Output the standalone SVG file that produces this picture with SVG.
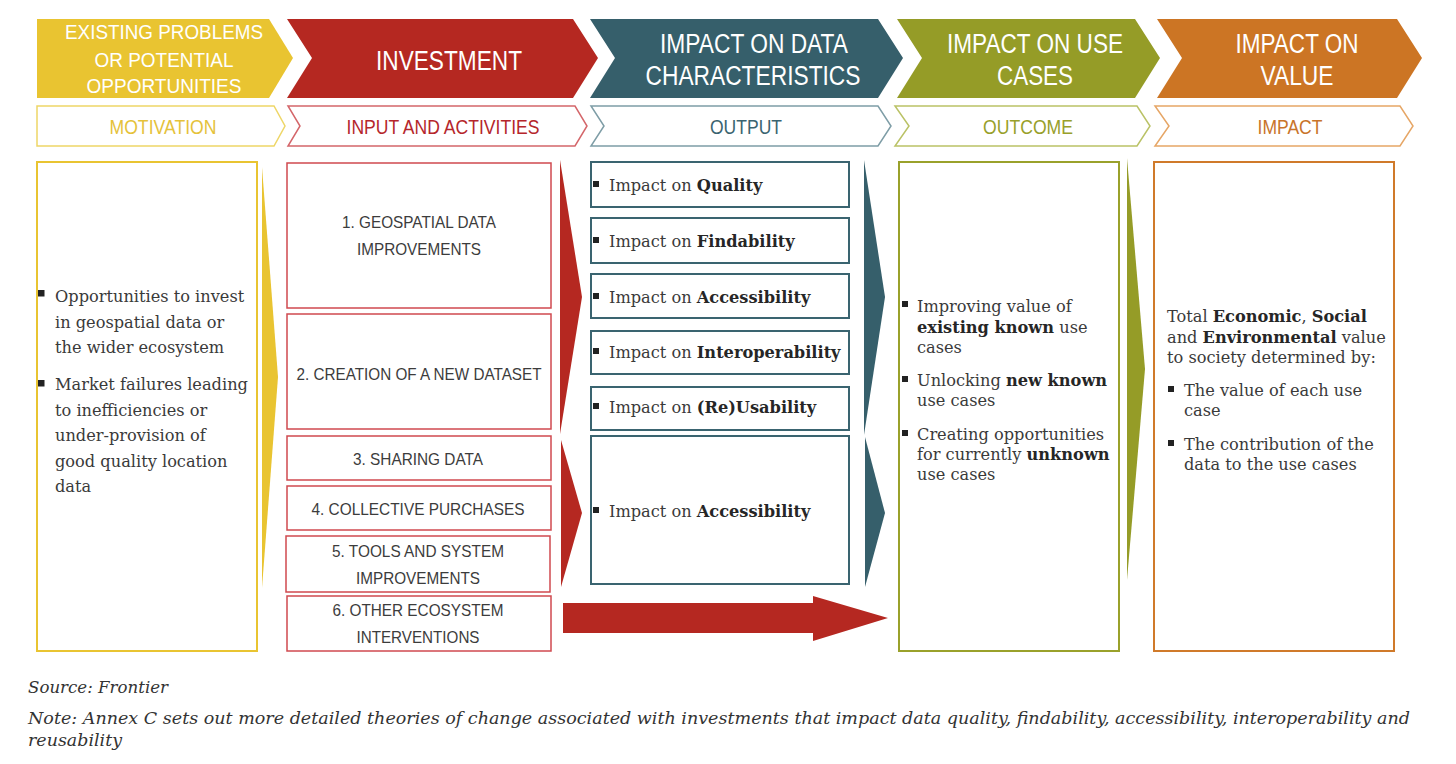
<svg xmlns="http://www.w3.org/2000/svg" width="1456" height="764" viewBox="0 0 1456 764">
<style>
.hd{font-family:"Liberation Sans Narrow","Liberation Sans",Arial,sans-serif;fill:#fff;text-anchor:middle}
.h1{font-size:27px}
.h2{font-size:20px}
.lb{font-family:"Liberation Sans Narrow","Liberation Sans",Arial,sans-serif;font-size:21px;text-anchor:middle}
.bx{font-family:"Liberation Sans Narrow","Liberation Sans",Arial,sans-serif;font-size:17px;fill:#3c3c3c;text-anchor:middle}
.sf{font-family:"DejaVu Serif","Liberation Serif",serif;font-size:16.2px;fill:#3a3a3a}
.b{font-weight:bold;fill:#262626}
.ft{font-family:"DejaVu Serif","Liberation Serif",serif;font-size:17.5px;font-style:italic;fill:#333}
.bul{fill:#222}
</style>
<rect width="1456" height="764" fill="#fff"/>

<g id="col-motivation">
  <path d="M37,19 H269 L293,58 L269,98 H37 Z" fill="#E9C431"/>
  <text class="hd h2" x="164" y="39" textLength="198" lengthAdjust="spacingAndGlyphs">EXISTING PROBLEMS</text>
  <text class="hd h2" x="164" y="67" textLength="139" lengthAdjust="spacingAndGlyphs">OR POTENTIAL</text>
  <text class="hd h2" x="164" y="93" textLength="155" lengthAdjust="spacingAndGlyphs">OPPORTUNITIES</text>
  <path d="M37,106 H274 L285,126 L274,146 H37 Z" fill="#fff" stroke="#EED667" stroke-width="1.5"/>
  <text class="lb" x="163" y="134" fill="#E5C23A" textLength="107" lengthAdjust="spacingAndGlyphs">MOTIVATION</text>
</g>

<g id="col-investment">
  <path d="M287,19 H573 L598,58 L573,98 H287 L312,58 Z" fill="#B52821"/>
  <text class="hd h1" x="449" y="70" textLength="146" lengthAdjust="spacingAndGlyphs">INVESTMENT</text>
  <path d="M288,106 H575 L587,126 L575,146 H288 L300,126 Z" fill="#fff" stroke="#D4666A" stroke-width="1.5"/>
  <text class="lb" x="443" y="134" fill="#B5262B" textLength="193" lengthAdjust="spacingAndGlyphs">INPUT AND ACTIVITIES</text>
</g>

<g id="col-output">
  <path d="M590,19 H878 L903,58 L878,98 H590 L615,58 Z" fill="#365F6B"/>
  <text class="hd h1" x="754" y="53" textLength="188" lengthAdjust="spacingAndGlyphs">IMPACT ON DATA</text>
  <text class="hd h1" x="753" y="85" textLength="215" lengthAdjust="spacingAndGlyphs">CHARACTERISTICS</text>
  <path d="M591,106 H878 L891,126 L878,146 H591 L604,126 Z" fill="#fff" stroke="#7E9DA6" stroke-width="1.5"/>
  <text class="lb" x="746" y="134" fill="#3A6470" textLength="72" lengthAdjust="spacingAndGlyphs">OUTPUT</text>
</g>

<g id="col-outcome">
  <path d="M897,19 H1135 L1160,58 L1135,98 H897 L922,58 Z" fill="#959C27"/>
  <text class="hd h1" x="1035" y="53" textLength="176" lengthAdjust="spacingAndGlyphs">IMPACT ON USE</text>
  <text class="hd h1" x="1035" y="85" textLength="76" lengthAdjust="spacingAndGlyphs">CASES</text>
  <path d="M895,106 H1137 L1150,126 L1137,146 H895 L909,126 Z" fill="#fff" stroke="#BAC266" stroke-width="1.5"/>
  <text class="lb" x="1028" y="134" fill="#98A02A" textLength="90" lengthAdjust="spacingAndGlyphs">OUTCOME</text>
</g>

<g id="col-impact">
  <path d="M1157,19 H1397 L1422,58 L1397,98 H1157 L1182,58 Z" fill="#CC7524"/>
  <text class="hd h1" x="1297" y="53" textLength="123" lengthAdjust="spacingAndGlyphs">IMPACT ON</text>
  <text class="hd h1" x="1297" y="85" textLength="73" lengthAdjust="spacingAndGlyphs">VALUE</text>
  <path d="M1155,106 H1400 L1413,126 L1400,146 H1155 L1169,126 Z" fill="#fff" stroke="#E6A666" stroke-width="1.5"/>
  <text class="lb" x="1290" y="134" fill="#C8742A" textLength="65" lengthAdjust="spacingAndGlyphs">IMPACT</text>
</g>

<g id="box-motivation">
  <rect x="37" y="162" width="220" height="489" fill="#fff" stroke="#E9C431" stroke-width="2"/>
  <rect class="bul" x="38" y="290" width="6.5" height="6.5"/>
  <text class="sf" x="55" y="302">Opportunities to invest</text>
  <text class="sf" x="55" y="327.5">in geospatial data or</text>
  <text class="sf" x="55" y="353">the wider ecosystem</text>
  <rect class="bul" x="38" y="380" width="6.5" height="6.5"/>
  <text class="sf" x="55" y="390">Market failures leading</text>
  <text class="sf" x="55" y="415.5">to inefficiencies or</text>
  <text class="sf" x="55" y="441">under-provision of</text>
  <text class="sf" x="55" y="466.5">good quality location</text>
  <text class="sf" x="55" y="492">data</text>
</g>

<g id="inv-1">
  <rect x="287" y="163" width="264" height="145" fill="#fff" stroke="#D0494F" stroke-width="1.5"/>
  <text class="bx" x="419" y="228" textLength="154" lengthAdjust="spacingAndGlyphs">1. GEOSPATIAL DATA</text>
  <text class="bx" x="419" y="255" textLength="124" lengthAdjust="spacingAndGlyphs">IMPROVEMENTS</text>
</g>
<g id="inv-2">
  <rect x="287" y="314" width="264" height="115" fill="#fff" stroke="#D0494F" stroke-width="1.5"/>
  <text class="bx" x="419" y="380" textLength="245" lengthAdjust="spacingAndGlyphs">2. CREATION OF A NEW DATASET</text>
</g>
<g id="inv-3">
  <rect x="287" y="436" width="264" height="44" fill="#fff" stroke="#D0494F" stroke-width="1.5"/>
  <text class="bx" x="418" y="465" textLength="130" lengthAdjust="spacingAndGlyphs">3. SHARING DATA</text>
</g>
<g id="inv-4">
  <rect x="287" y="486" width="264" height="44" fill="#fff" stroke="#D0494F" stroke-width="1.5"/>
  <text class="bx" x="418" y="515" textLength="213" lengthAdjust="spacingAndGlyphs">4. COLLECTIVE PURCHASES</text>
</g>
<g id="inv-5">
  <rect x="286" y="536" width="264" height="56" fill="#fff" stroke="#D0494F" stroke-width="1.5"/>
  <text class="bx" x="418" y="557" textLength="172" lengthAdjust="spacingAndGlyphs">5. TOOLS AND SYSTEM</text>
  <text class="bx" x="418" y="584" textLength="124" lengthAdjust="spacingAndGlyphs">IMPROVEMENTS</text>
</g>
<g id="inv-6">
  <rect x="287" y="596" width="264" height="55" fill="#fff" stroke="#D0494F" stroke-width="1.5"/>
  <text class="bx" x="418" y="616" textLength="171" lengthAdjust="spacingAndGlyphs">6. OTHER ECOSYSTEM</text>
  <text class="bx" x="418" y="643" textLength="123" lengthAdjust="spacingAndGlyphs">INTERVENTIONS</text>
</g>

<g id="out-1">
  <rect x="591" y="162" width="258" height="45" fill="#fff" stroke="#3A6470" stroke-width="2"/>
  <rect class="bul" x="593" y="181" width="6" height="6"/>
  <text class="sf" x="609" y="191">Impact on <tspan class="b">Quality</tspan></text>
</g>
<g id="out-2">
  <rect x="591" y="218" width="258" height="45" fill="#fff" stroke="#3A6470" stroke-width="2"/>
  <rect class="bul" x="593" y="237" width="6" height="6"/>
  <text class="sf" x="609" y="247">Impact on <tspan class="b">Findability</tspan></text>
</g>
<g id="out-3">
  <rect x="591" y="274" width="258" height="44" fill="#fff" stroke="#3A6470" stroke-width="2"/>
  <rect class="bul" x="593" y="293" width="6" height="6"/>
  <text class="sf" x="609" y="303">Impact on <tspan class="b">Accessibility</tspan></text>
</g>
<g id="out-4">
  <rect x="591" y="331" width="258" height="43" fill="#fff" stroke="#3A6470" stroke-width="2"/>
  <rect class="bul" x="593" y="348" width="6" height="6"/>
  <text class="sf" x="609" y="358">Impact on <tspan class="b">Interoperability</tspan></text>
</g>
<g id="out-5">
  <rect x="591" y="387" width="258" height="43" fill="#fff" stroke="#3A6470" stroke-width="2"/>
  <rect class="bul" x="593" y="403" width="6" height="6"/>
  <text class="sf" x="609" y="413">Impact on <tspan class="b">(Re)Usability</tspan></text>
</g>
<g id="out-6">
  <rect x="591" y="436" width="258" height="148" fill="#fff" stroke="#3A6470" stroke-width="2"/>
  <rect class="bul" x="593" y="507" width="6" height="6"/>
  <text class="sf" x="609" y="517">Impact on <tspan class="b">Accessibility</tspan></text>
</g>

<g id="box-outcome">
  <rect x="899" y="162" width="220" height="489" fill="#fff" stroke="#9AA12B" stroke-width="2"/>
  <rect class="bul" x="902" y="301" width="6" height="6"/>
  <text class="sf" x="917" y="312">Improving value of</text>
  <text class="sf" x="917" y="333"><tspan class="b">existing known</tspan> use</text>
  <text class="sf" x="917" y="353">cases</text>
  <rect class="bul" x="902" y="376" width="6" height="6"/>
  <text class="sf" x="917" y="386">Unlocking <tspan class="b">new known</tspan></text>
  <text class="sf" x="917" y="406">use cases</text>
  <rect class="bul" x="902" y="430" width="6" height="6"/>
  <text class="sf" x="917" y="440">Creating opportunities</text>
  <text class="sf" x="917" y="460">for currently <tspan class="b">unknown</tspan></text>
  <text class="sf" x="917" y="480">use cases</text>
</g>

<g id="box-impact">
  <rect x="1154" y="162" width="240" height="489" fill="#fff" stroke="#D07A2A" stroke-width="2"/>
  <text class="sf" x="1167" y="322">Total  <tspan class="b">Economic</tspan>, <tspan class="b">Social</tspan></text>
  <text class="sf" x="1167" y="343">and <tspan class="b">Environmental</tspan> value</text>
  <text class="sf" x="1167" y="363">to society determined by:</text>
  <rect class="bul" x="1168" y="386" width="6" height="6"/>
  <text class="sf" x="1184" y="396">The value of each use</text>
  <text class="sf" x="1184" y="416">case</text>
  <rect class="bul" x="1168" y="440" width="6" height="6"/>
  <text class="sf" x="1184" y="450">The contribution of the</text>
  <text class="sf" x="1184" y="470">data to the use cases</text>
</g>

<g id="connectors">
  <path d="M262,167 L278,377 L262,588 Z" fill="#E9C431"/>
  <path d="M560,160 L582,297 L560,434 Z" fill="#B52821"/>
  <path d="M561,440 L582,513 L561,587 Z" fill="#B52821"/>
  <path d="M563,603 H813 V596 L888,618 L813,641 V633 H563 Z" fill="#B52821"/>
  <path d="M864,160 L885,297 L864,435 Z" fill="#365F6B"/>
  <path d="M865,437 L885,513 L865,587 Z" fill="#365F6B"/>
  <path d="M1127,158 L1145,369 L1127,580 Z" fill="#959C27"/>
</g>

<g id="footer">
  <text class="ft" x="28" y="693" textLength="140" lengthAdjust="spacingAndGlyphs">Source: Frontier</text>
  <text class="ft" x="28" y="724" textLength="1382" lengthAdjust="spacingAndGlyphs">Note: Annex C sets out more detailed theories of change associated with investments that impact data quality, findability, accessibility, interoperability and</text>
  <text class="ft" x="28" y="746" textLength="94" lengthAdjust="spacingAndGlyphs">reusability</text>
</g>
</svg>
